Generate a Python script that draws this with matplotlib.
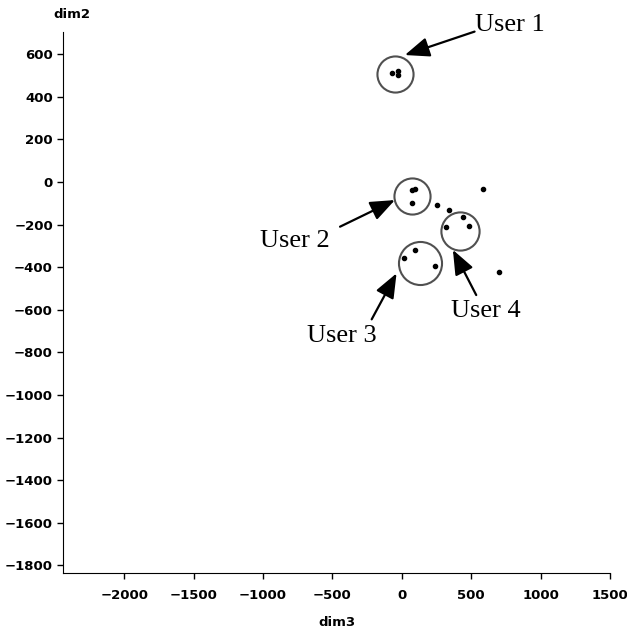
import matplotlib.pyplot as plt
import numpy as np

# points (dim3, dim2)
dim3 = [-70, -31, -31, 70, 98, 70, 256, 337, 586, 440, 316, 481, 93, 17, 242, 698]
dim2 = [513, 520, 501, -38, -34, -100, -109, -131, -34, -166, -213, -207, -319, -356, -394, -421]

# user groups: circle centre and size
users = ["User 1", "User 2", "User 3", "User 4"]
circle_x = [-50, 70, 129, 416]
circle_y = [507, -66, -379, -229]
circle_size = [26, 26, 31, 27.5]

# arrow tip, arrow tail, label position
tip_x = [22, -50, -38, 368]
tip_y = [596, -85, -429, -319]
tail_x = [524, -445, -217, 536]
tail_y = [706, -210, -645, -531]
label_x = [775, -768, -433, 608]
label_y = [737, -276, -723, -604]

fig = plt.figure(figsize=(6.27, 6.33), dpi=100)
ax = fig.add_axes([0.101, 0.0948, 0.872, 0.8546])

ax.plot(dim3, dim2, "o", color="black", markersize=3, zorder=3)
for cx, cy, s in zip(circle_x, circle_y, circle_size):
    ax.plot(cx, cy, "o", markersize=s, markerfacecolor="none",
            markeredgecolor="#505050", markeredgewidth=1.5, zorder=2)

for i in range(len(users)):
    ax.annotate("", xy=(tip_x[i], tip_y[i]), xytext=(tail_x[i], tail_y[i]),
                arrowprops=dict(arrowstyle="-|>,head_length=1.5,head_width=0.6",
                                color="black", lw=1.6, shrinkA=0, shrinkB=0),
                annotation_clip=False)
    ax.text(label_x[i], label_y[i], users[i], family="Liberation Serif",
            fontsize=19, ha="center", va="center", clip_on=False)

ax.set_xlim(-2438, 1500)
ax.set_ylim(-1836, 704)
ax.set_xticks(np.arange(-2000, 1501, 500))
ax.set_yticks(np.arange(-1800, 601, 200))
ax.spines["top"].set_visible(False)
ax.spines["right"].set_visible(False)
ax.tick_params(direction="out", length=4.5, width=1, labelsize=9.5)
ax.tick_params(axis="x", pad=7)
ax.tick_params(axis="y", pad=3)
for lab in ax.get_xticklabels() + ax.get_yticklabels():
    lab.set_fontweight("bold")

fig.text(336.7 / 627, 1 - 622 / 633, "dim3", fontsize=9.5, fontweight="bold",
         ha="center", va="center")
fig.text(72 / 627, 1 - 15 / 633, "dim2", fontsize=9.5, fontweight="bold",
         ha="center", va="center")

fig.savefig("out.png", dpi=100)
